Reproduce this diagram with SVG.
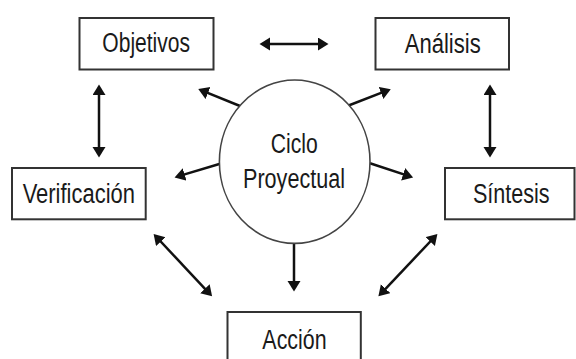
<svg xmlns="http://www.w3.org/2000/svg" width="576" height="359" viewBox="0 0 576 359">
<style>
.box{fill:#fff;stroke:#333;stroke-width:2}
.lbl{font-family:"Liberation Sans",Arial,sans-serif;font-size:27px;fill:#1a1a1a;text-anchor:middle}
.c{fill:none;stroke:#111;stroke-width:2.5}
.one{marker-end:url(#ah)}
.two{marker-start:url(#ah);marker-end:url(#ah)}
</style>
<defs>
<marker id="ah" markerUnits="userSpaceOnUse" markerWidth="12" markerHeight="14" refX="7" refY="6.5" orient="auto-start-reverse" viewBox="0 0 12 14">
<path d="M0,0 L10.5,6.5 L0,13 Z" fill="#111"/>
</marker>
</defs>
<rect width="576" height="359" fill="#fff"/>
<g id="connectors">
<line class="c two" x1="263" y1="44" x2="325" y2="44"/>
<line class="c two" x1="99" y1="88" x2="99" y2="154"/>
<line class="c two" x1="490" y1="88" x2="490" y2="154"/>
<line class="c two" x1="156" y1="236.5" x2="209.7" y2="293.8"/>
<line class="c two" x1="435" y1="236.5" x2="380.8" y2="293.8"/>
<line class="c one" x1="294" y1="243" x2="294" y2="288"/>
<line class="c one" x1="240" y1="106" x2="201.5" y2="90.4"/>
<line class="c one" x1="347.3" y1="106" x2="387.5" y2="90.4"/>
<line class="c one" x1="219.3" y1="164" x2="177.9" y2="176.4"/>
<line class="c one" x1="370" y1="163.3" x2="409.8" y2="176.4"/>
</g>
<g id="ciclo">
<ellipse cx="294.7" cy="161.7" rx="75.3" ry="81.7" fill="#fff" stroke="#444" stroke-width="1.6"/>
<text class="lbl" x="294.2" y="153.3" textLength="47" lengthAdjust="spacingAndGlyphs">Ciclo</text>
<text class="lbl" x="294" y="188.3" textLength="102" lengthAdjust="spacingAndGlyphs">Proyectual</text>
</g>
<g id="objetivos">
<rect class="box" x="79.5" y="18" width="134" height="51.5"/>
<text class="lbl" x="146.2" y="52.2" textLength="87.7" lengthAdjust="spacingAndGlyphs">Objetivos</text>
</g>
<g id="analisis">
<rect class="box" x="375.5" y="18" width="133.5" height="51.5"/>
<text class="lbl" x="442.7" y="52.7" textLength="76" lengthAdjust="spacingAndGlyphs">Análisis</text>
</g>
<g id="verificacion">
<rect class="box" x="12" y="168" width="133.7" height="51.3"/>
<text class="lbl" x="78.8" y="202.7" textLength="112.3" lengthAdjust="spacingAndGlyphs">Verificación</text>
</g>
<g id="sintesis">
<rect class="box" x="445" y="168" width="129.5" height="51.3"/>
<text class="lbl" x="511.3" y="202.7" textLength="76.7" lengthAdjust="spacingAndGlyphs">Síntesis</text>
</g>
<g id="accion">
<rect class="box" x="227.5" y="312" width="133.3" height="60"/>
<text class="lbl" x="294.5" y="349.3" textLength="64.3" lengthAdjust="spacingAndGlyphs">Acción</text>
</g>
</svg>
